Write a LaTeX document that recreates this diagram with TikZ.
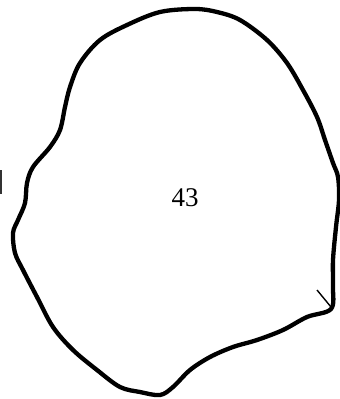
\documentclass[tikz,border=0pt]{standalone}
\usepackage{fontspec}
\setmainfont{Liberation Serif}
\usetikzlibrary{positioning}

\begin{document}
\begin{tikzpicture}[
  x=1pt,y=-1pt,
  outline/.style={draw,line width=4.3pt,line join=round},
  tick/.style={draw,line width=1.4pt},
  region/.style={font=\fontsize{27}{30}\selectfont}
]
\useasboundingbox (0,0) rectangle (340,399);

% region boundary
\draw[outline] plot[smooth cycle,tension=0.55] coordinates {
 (195,9) (160,12) (127,25) (100,40) (80,63) (70,87) (65,107) (60,130)
 (50,147) (33,167) (27,183) (25,203) (18,220) (13,233) (15,253)
 (23,270) (37,297) (53,327) (73,350) (97,370) (120,387) (140,392)
 (160,395) (173,387) (190,370) (210,357) (233,347) (257,340)
 (283,330) (307,317) (331,309) (333,287) (333,260) (336,227)
 (339,200) (338,177) (333,163) (325,140) (317,117) (303,90)
 (287,63) (267,40) (240,20) (217,12)};

% label
\node[region] (num) at (185,198) {43};

% small marks
\coordinate (tickA) at (317,290);
\coordinate (tickB) at (331,307);
\draw[tick] (tickA) -- (tickB);
\coordinate (barA) at (1,170);
\coordinate (barB) at (1,194);
\draw[tick,line width=2.4pt,black!80] (barA) -- (barB);
\end{tikzpicture}
\end{document}
